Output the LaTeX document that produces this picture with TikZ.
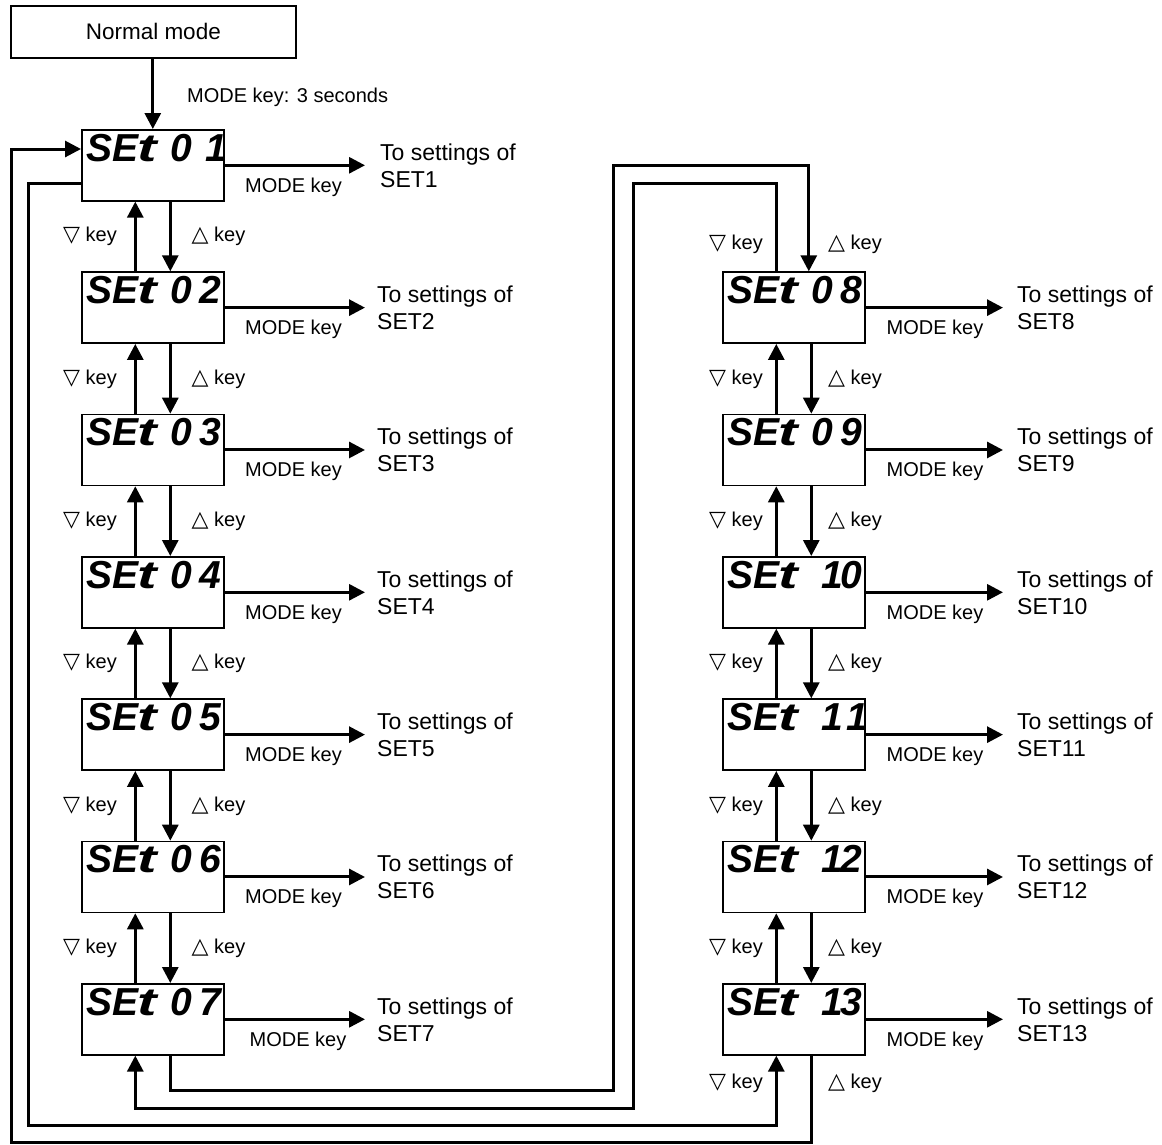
\documentclass[tikz,border=0pt]{standalone}
\usepackage{fontspec}
\usepackage{graphicx}
\setmainfont{Liberation Sans}
\newfontfamily\symfnt{DejaVu Sans}
\usetikzlibrary{arrows.meta}

\newcommand\segone{\hfill1\kern-6pt}
\newcommand\segdisp[2]{\makebox[26pt][l]{S}\makebox[25pt][l]{E}\makebox[30pt][l]{\scalebox{1.5}[1]{t}}\makebox[29pt][c]{#1}\makebox[25pt][r]{#2}}
\newcommand\dnkey{{\symfnt\fontsize{22}{24}\selectfont ▽}\ key}
\newcommand\upkey{{\symfnt\fontsize{22}{24}\selectfont △}\ key}

\tikzset{
  dispbox/.style={draw,line width=1.6pt,minimum width=142pt,minimum height=71pt,inner sep=0pt,anchor=north west},
  arr/.style={line width=3pt,-{Triangle[length=16pt,width=16pt]}},
  ln/.style={line width=3pt},
  seg/.style={anchor=base west,inner sep=0pt,font=\fontsize{39}{39}\selectfont\bfseries\itshape},
  lbl/.style={inner sep=0pt,anchor=base,font=\fontsize{20}{24}\selectfont},
  dest/.style={anchor=base west,inner sep=0pt,align=left,font=\fontsize{23}{27}\selectfont},
}

\begin{document}
\begin{tikzpicture}[x=1pt,y=-1pt]
\fill[white] (0,0) rectangle (1162,1144);
\useasboundingbox (0,0) rectangle (1162,1144);

% Normal mode
\node[dispbox,minimum width=285pt,minimum height=52pt,font=\fontsize{22.5}{27}\selectfont] (nm) at (10,5) {Normal mode};
\node[lbl,anchor=base west] (m0) at (187,102) {MODE key: 3 seconds};

% boxes
\foreach \i/\t/\a/\b in {1/129/0/\segone,2/271.33/0/2,3/413.67/0/3,4/556/0/4,5/698.33/0/5,6/840.67/0/6,7/983/0/7}{
  \node[dispbox] (s\i) at (81,\t) {};
  \node[seg] (d\i) at (86,\t+32) {\segdisp{\a}{\b}};
}
\foreach \i/\t/\a/\b in {8/271.33/0/8,9/413.67/0/9,10/556/\segone/0,11/698.33/\segone/\segone,12/840.67/\segone/2,13/983/\segone/3}{
  \node[dispbox] (s\i) at (722,\t) {};
  \node[seg] (d\i) at (727,\t+32) {\segdisp{\a}{\b}};
}

\draw[arr] (s1.north |- nm.south) -- (s1.north);

% MODE key arrows and destinations
\foreach \i/\t/\mx/\tx/\sh in {1/129/293.5/380/15pt,2/271.33/293.5/377/12pt,3/413.67/293.5/377/12pt,4/556/293.5/377/12pt,5/698.33/293.5/377/12pt,6/840.67/293.5/377/12pt,7/983/298/377/12pt}{
  \node[dest] (t\i) at (\tx,\t+58) {To settings of\\SET\i};
  \node[lbl] (m\i) at (\mx,\t+63) {MODE key};
  \draw[arr,shorten >=\sh] (s\i.east) -- (s\i.east -| t\i.west);
}
\foreach \i/\t in {8/271.33,9/413.67,10/556,11/698.33,12/840.67,13/983}{
  \node[dest] (t\i) at (1017,\t+58) {To settings of\\SET\i};
  \node[lbl] (m\i) at (935,\t+63) {MODE key};
  \draw[arr,shorten >=14pt] (s\i.east) -- (s\i.east -| t\i.west);
}

% vertical arrows between boxes
\foreach \i/\j/\t in {1/2/129,2/3/271.33,3/4/413.67,4/5/556,5/6/698.33,6/7/840.67}{
  \draw[arr] ([xshift=17.5pt]s\i.south) -- ([xshift=17.5pt]s\j.north);
  \draw[arr] ([xshift=-17.5pt]s\j.north) -- ([xshift=-17.5pt]s\i.south);
  \node[lbl] (kd\i) at (90,\t+112.7) {\dnkey};
  \node[lbl] (ku\i) at (218.5,\t+112.7) {\upkey};
}
\foreach \i/\j/\t in {8/9/271.33,9/10/413.67,10/11/556,11/12/698.33,12/13/840.67}{
  \draw[arr] ([xshift=17.5pt]s\i.south) -- ([xshift=17.5pt]s\j.north);
  \draw[arr] ([xshift=-17.5pt]s\j.north) -- ([xshift=-17.5pt]s\i.south);
  \node[lbl] (kd\i) at (736,\t+112.7) {\dnkey};
  \node[lbl] (ku\i) at (855,\t+112.7) {\upkey};
}

% labels near SET08 top and SET13 bottom
\node[lbl] (kdt) at (736,249) {\dnkey};
\node[lbl] (kut) at (855,249) {\upkey};
\node[lbl] (kdb) at (736,1088) {\dnkey};
\node[lbl] (kub) at (855,1088) {\upkey};

% loop connectors
% SET13 -> SET01 (up key)
\draw[arr] ([xshift=17.5pt]s13.south) -- ([xshift=17.5pt]s13.south |- 0,1142) -- (11.5,1142) -- (11.5,149) -- (s1.west |- 0,149);
% SET01 -> SET13 (down key)
\draw[arr] (s1.west |- 0,183) -- (28,183) -- (28,1125) -- ([xshift=-17.5pt]s13.south |- 0,1125) -- ([xshift=-17.5pt]s13.south);
% SET07 -> SET08 (up key)
\draw[arr] ([xshift=17.5pt]s7.south) -- ([xshift=17.5pt]s7.south |- 0,1090) -- (613,1090) -- (613,165) -- ([xshift=15pt]s8.north |- 0,165) -- ([xshift=15pt]s8.north);
% SET08 -> SET07 (down key)
\draw[arr] ([xshift=-17.5pt]s8.north) -- ([xshift=-17.5pt]s8.north |- 0,183) -- (633,183) -- (633,1108) -- ([xshift=-17.5pt]s7.south |- 0,1108) -- ([xshift=-17.5pt]s7.south);
\end{tikzpicture}
\end{document}
